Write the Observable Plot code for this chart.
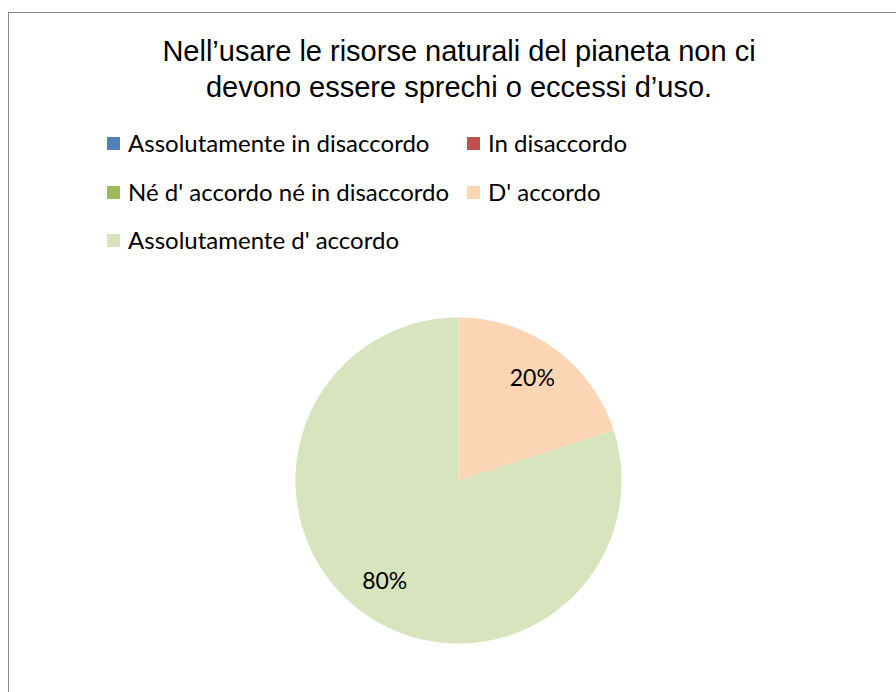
<!DOCTYPE html>
<html>
<head>
<meta charset="utf-8">
<script src="https://cdn.jsdelivr.net/npm/d3@7"></script>
<script src="https://cdn.jsdelivr.net/npm/@observablehq/plot@0.6"></script>
<style>
  html, body { margin: 0; padding: 0; background: #fff; }
  #wrap { position: relative; width: 896px; height: 692px; overflow: hidden; background: #fff; }
  #frame { position: absolute; left: 8px; top: 12px; width: 1000px; height: 1000px; border-left: 1px solid #868686; border-top: 1px solid #868686; }
  #title { position: absolute; left: 0; top: 33px; width: 918px; text-align: center; font-family: "Liberation Sans", Arial, sans-serif; font-size: 29px; line-height: 36px; color: #000; }
  .leg { position: absolute; font-family: Lato, "Open Sans", sans-serif; font-size: 24px; color: #000; white-space: nowrap; line-height: 26px; }
  .sw { position: absolute; width: 13px; height: 13px; }
  #chart { position: absolute; left: 0; top: 270px; }
</style>
</head>
<body>
<div id="wrap">
  <div id="frame"></div>
  <div id="title"></div>
  <div id="legend"></div>
  <div id="chart"></div>
</div>
<script>
const titleLines = ["Nell’usare le risorse naturali del pianeta non ci", "devono essere sprechi o eccessi d’uso."];
const categories = ["Assolutamente in disaccordo", "In disaccordo", "Né d' accordo né in disaccordo", "D' accordo", "Assolutamente d' accordo"];
const values = [0, 0, 0, 20, 80];
const colors = ["#4F81BD", "#C0504D", "#9BBB59", "#FCD5B5", "#D7E4BD"];
const valueLabels = ["0%", "0%", "0%", "20%", "80%"];

const titleEl = document.getElementById("title");
titleLines.forEach((l, i) => {
  if (i) titleEl.appendChild(document.createElement("br"));
  titleEl.appendChild(document.createTextNode(l));
});

// Legend (layout only)
const legendPos = [[107, 131], [467, 131], [107, 180], [467, 180], [107, 228]];
const legend = document.getElementById("legend");
categories.forEach((c, i) => {
  const [lx, ly] = legendPos[i];
  const sw = document.createElement("div");
  sw.className = "sw";
  sw.style.left = lx + "px";
  sw.style.top = (ly + 6) + "px";
  sw.style.background = colors[i];
  legend.appendChild(sw);
  const t = document.createElement("div");
  t.className = "leg";
  t.style.left = (lx + 21) + "px";
  t.style.top = (ly - 1) + "px";
  t.textContent = c;
  legend.appendChild(t);
});

// Pie geometry from data
const W = 896, H = 420, cx = 458, cy = 210, R = 163;
const data = categories.map((c, i) => ({category: c, value: values[i], color: colors[i], label: valueLabels[i]}));
const arcs = d3.pie().sort(null).value(d => d.value).startAngle(0).endAngle(2 * Math.PI)(data).filter(a => a.data.value > 0);

const wedges = arcs.map(a => {
  const pts = [[0, 0]];
  const n = Math.max(2, Math.ceil((a.endAngle - a.startAngle) / (Math.PI / 360)));
  for (let k = 0; k <= n; k++) {
    const t = a.startAngle + (a.endAngle - a.startAngle) * k / n;
    pts.push([Math.sin(t), Math.cos(t)]);
  }
  pts.push([0, 0]);
  return {type: "Feature", properties: a.data, geometry: {type: "Polygon", coordinates: [pts]}};
});

const labels = arcs.map(a => {
  const m = (a.startAngle + a.endAngle) / 2;
  const r = 0.77;
  return {x: Math.sin(m) * r, y: Math.cos(m) * r, label: a.data.label};
});

const plot = Plot.plot({
  width: W,
  height: H,
  margin: 0,
  projection: () => d3.geoIdentity().reflectY(true).scale(R).translate([cx, cy]),
  marks: [
    Plot.geo(wedges, {fill: d => d.properties.color, stroke: "none"}),
    Plot.text(labels, {x: "x", y: "y", text: "label", fontSize: 23, fill: "#000", fontFamily: "Lato, 'Open Sans', sans-serif"})
  ]
});
document.getElementById("chart").appendChild(plot);
</script>
</body>
</html>
